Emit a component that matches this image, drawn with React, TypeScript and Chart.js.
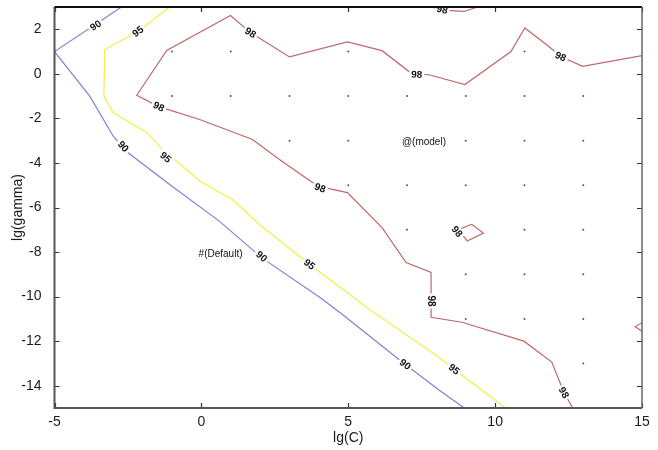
import React, { useEffect, useRef } from 'react';
import { Chart, registerables } from 'chart.js';
Chart.register(...registerables);

const FONT = "'Liberation Sans', Arial, sans-serif";

const xTicks = [-5, 0, 5, 10, 15];
const yTicks = [-14, -12, -10, -8, -6, -4, -2, 0, 2];

// contour 90 (blue)
const c90C = [-2.72, -5, -3.8, -3.0, -2.54, -1.0, 0.6, 2.05, 4.1, 4.9, 6.8, 8.1, 8.95];
const c90G = [3, 1, -1, -2.8, -3.5, -5.05, -6.6, -8.25, -10.1, -10.9, -12.9, -14.2, -15];

// contour 95 (yellow)
const c95C = [-1.08, -2.16, -3.29, -3.32, -3.01, -1.86, -1.32, -0.06, 0.62, 1.06, 1.98, 3.68, 5.27, 5.71, 8.09, 8.6, 10.36];
const c95G = [3, 1.9, 1.09, -1.0, -1.74, -2.63, -3.4, -4.8, -5.33, -5.64, -6.76, -8.55, -10.12, -10.57, -12.72, -13.26, -15];

// contour 98 (red) - main line
const c98C = [15, 12.98, 12.23, 11.83, 11.01, 10.54, 8.97, 7.75, 7.17, 6.15, 4.97, 3.0, 1.67, 0.99, -1.18, -2.2, -1.45, -0.06, 1.74, 2.66, 3.78, 4.35, 4.97, 6.15, 6.97, 7.82, 7.82, 8.87, 10.98, 11.93, 12.34, 12.64];
const c98G = [0.82, 0.34, 0.78, 1.23, 2.06, 1.0, -0.48, -0.04, 0.0, 1.04, 1.43, 0.76, 1.85, 2.62, 1.05, -0.96, -1.47, -2.05, -2.95, -3.85, -4.88, -5.15, -5.33, -6.9, -8.47, -8.91, -10.93, -11.15, -12.0, -12.94, -14.29, -15];
// contour 98 - small pieces
const c98TopC = [7.8, 8.3, 8.95, 9.4];
const c98TopG = [3, 2.85, 2.8, 3];
const c98IslandC = [9.2, 9.6, 9.05, 8.75, 9.2];
const c98IslandG = [-6.75, -7.15, -7.5, -7.0, -6.75];
const c98EdgeC = [15, 14.77, 15];
const c98EdgeG = [-11.17, -11.35, -11.55];

// grid search points
const dotsC = [-1, 1, 5, 11, -1, 1, 3, 5, 7, 9, 11, 13, 3, 5, 9, 11, 13, 5, 7, 9, 11, 13, 7, 11, 13, 9, 11, 13, 9, 11, 13, 13];
const dotsG = [1, 1, 1, 1, -1, -1, -1, -1, -1, -1, -1, -1, -3, -3, -3, -3, -3, -5, -5, -5, -5, -5, -7, -7, -7, -9, -9, -9, -11, -11, -11, -13];

// contour labels
const lab90C = [-3.6, -2.66, 2.05, 6.94];
const lab90G = [2.17, -3.26, -8.2, -13.04];
const lab95C = [-2.16, -1.22, 3.68, 8.6];
const lab95G = [1.9, -3.75, -8.55, -13.26];
const lab98C = [1.67, 7.33, 12.23, 8.2, -1.45, 4.04, 8.7, 7.82, 12.34];
const lab98G = [1.85, -0.03, 0.78, 2.88, -1.47, -5.12, -7.08, -10.2, -14.31];

// annotated points
const markText = ['@(model)', '#(Default)'];
const markC = [7, 0];
const markG = [-3, -8];

const zip = (a: number[], b: number[]) => a.map((v, i) => ({ x: v, y: b[i] }));

const BLUE = 'rgb(128,128,215)';
const YELLOW = 'rgb(240,240,70)';
const RED = 'rgb(190,105,105)';

export default function App() {
  const ref = useRef<HTMLCanvasElement>(null);
  useEffect(() => {
    if (!ref.current) return;
    const lineDs = (pts: { x: number; y: number }[], color: string) => ({
      data: pts,
      showLine: true,
      borderColor: color,
      borderWidth: 1.2,
      pointRadius: 0,
      fill: false,
      tension: 0,
    });
    const series90 = [zip(c90C, c90G)];
    const series95 = [zip(c95C, c95G)];
    const series98 = [zip(c98C, c98G), zip(c98TopC, c98TopG), zip(c98IslandC, c98IslandG), zip(c98EdgeC, c98EdgeG)];

    const overlay = {
      id: 'overlay',
      afterDatasetsDraw(chart: any) {
        const { ctx, chartArea } = chart;
        const xs = chart.scales.x;
        const ys = chart.scales.y;
        ctx.save();
        ctx.beginPath();
        ctx.rect(chartArea.left, chartArea.top, chartArea.right - chartArea.left, chartArea.bottom - chartArea.top);
        ctx.clip();
        const drawLabels = (lc: number[], lg: number[], text: string, series: { x: number; y: number }[][]) => {
          lc.forEach((c, i) => {
            const px = xs.getPixelForValue(c);
            const py = ys.getPixelForValue(lg[i]);
            let best = Infinity;
            let ang = 0;
            series.forEach((s) => {
              for (let k = 0; k < s.length - 1; k++) {
                const ax = xs.getPixelForValue(s[k].x), ay = ys.getPixelForValue(s[k].y);
                const bx = xs.getPixelForValue(s[k + 1].x), by = ys.getPixelForValue(s[k + 1].y);
                const dx = bx - ax, dy = by - ay;
                const L2 = dx * dx + dy * dy || 1;
                let t = ((px - ax) * dx + (py - ay) * dy) / L2;
                t = Math.max(0, Math.min(1, t));
                const qx = ax + t * dx, qy = ay + t * dy;
                const d = Math.hypot(px - qx, py - qy);
                if (d < best) {
                  best = d;
                  ang = Math.atan2(dy, dx);
                }
              }
            });
            if (ang > Math.PI / 2) ang -= Math.PI;
            if (ang < -Math.PI / 2) ang += Math.PI;
            ctx.save();
            ctx.translate(px, py);
            ctx.rotate(ang);
            ctx.font = `bold 10px ${FONT}`;
            const w = ctx.measureText(text).width;
            ctx.fillStyle = '#ffffff';
            ctx.fillRect(-w / 2 - 2, -5, w + 4, 10);
            ctx.fillStyle = '#111';
            ctx.textAlign = 'center';
            ctx.textBaseline = 'middle';
            ctx.fillText(text, 0, 0.5);
            ctx.restore();
          });
        };
        drawLabels(lab90C, lab90G, '90', series90);
        drawLabels(lab95C, lab95G, '95', series95);
        drawLabels(lab98C, lab98G, '98', series98);

        ctx.font = `10px ${FONT}`;
        ctx.fillStyle = '#111';
        ctx.textAlign = 'left';
        ctx.textBaseline = 'middle';
        markText.forEach((t, i) => {
          const px = xs.getPixelForValue(markC[i]);
          const py = ys.getPixelForValue(markG[i]);
          const half = ctx.measureText(t[0]).width / 2;
          ctx.fillText(t, px - half, py + 2);
        });
        ctx.restore();
      },
      afterDraw(chart: any) {
        const { ctx, chartArea } = chart;
        const { left, right, top, bottom } = chartArea;
        const xs = chart.scales.x;
        const ys = chart.scales.y;
        ctx.save();
        // inward ticks
        ctx.strokeStyle = '#333';
        ctx.lineWidth = 1.2;
        ctx.beginPath();
        xTicks.forEach((v) => {
          const p = Math.round(xs.getPixelForValue(v)) + 0.5;
          ctx.moveTo(p, bottom);
          ctx.lineTo(p, bottom - 5);
          ctx.moveTo(p, top);
          ctx.lineTo(p, top + 5);
        });
        yTicks.forEach((v) => {
          const p = Math.round(ys.getPixelForValue(v)) + 0.5;
          ctx.moveTo(left, p);
          ctx.lineTo(left + 5, p);
          ctx.moveTo(right, p);
          ctx.lineTo(right - 5, p);
        });
        ctx.stroke();
        // box
        ctx.lineWidth = 2;
        ctx.strokeStyle = '#555';
        ctx.beginPath();
        ctx.moveTo(left, top);
        ctx.lineTo(left, bottom);
        ctx.lineTo(right, bottom);
        ctx.stroke();
        ctx.strokeStyle = '#111';
        ctx.beginPath();
        ctx.moveTo(left, top);
        ctx.lineTo(right, top);
        ctx.stroke();
        ctx.strokeStyle = '#666';
        ctx.lineWidth = 1.5;
        ctx.beginPath();
        ctx.moveTo(right, top);
        ctx.lineTo(right, bottom);
        ctx.stroke();
        ctx.restore();
      },
    };

    const chart = new Chart(ref.current, {
      type: 'scatter',
      data: {
        datasets: [
          lineDs(series90[0], BLUE),
          lineDs(series95[0], YELLOW),
          ...series98.map((s) => lineDs(s, RED)),
          {
            data: zip(dotsC, dotsG),
            showLine: false,
            pointRadius: 1,
            pointBorderWidth: 0,
            pointBackgroundColor: '#555',
          },
        ] as any,
      },
      options: {
        animation: false,
        responsive: false,
        devicePixelRatio: 1,
        layout: { padding: { top: 7, right: 16, left: 0, bottom: 0 } },
        plugins: { legend: { display: false }, tooltip: { enabled: false } },
        scales: {
          x: {
            type: 'linear',
            min: -5,
            max: 15,
            grid: { display: false },
            border: { display: false },
            afterBuildTicks: (s: any) => {
              s.ticks = xTicks.map((v) => ({ value: v }));
            },
            afterFit: (s: any) => {
              s.height = 42;
              s.paddingLeft = 0;
              s.paddingRight = 0;
            },
            ticks: {
              padding: -2,
              maxRotation: 0,
              color: '#1a1a1a',
              font: { family: FONT, size: 14 },
              callback: (v: any) => String(v),
            },
            title: {
              display: true,
              text: 'lg(C)',
              color: '#1a1a1a',
              font: { family: FONT, size: 14 },
              padding: { top: 0, bottom: 3 },
            },
          },
          y: {
            type: 'linear',
            min: -15,
            max: 3,
            grid: { display: false },
            border: { display: false },
            afterBuildTicks: (s: any) => {
              s.ticks = yTicks.map((v) => ({ value: v }));
            },
            afterFit: (s: any) => {
              s.width = 54.5;
              s.paddingTop = 0;
              s.paddingBottom = 0;
            },
            ticks: {
              padding: 5,
              color: '#1a1a1a',
              font: { family: FONT, size: 14 },
              callback: (v: any) => String(v),
            },
            title: {
              display: true,
              text: 'lg(gamma)',
              color: '#1a1a1a',
              font: { family: FONT, size: 14 },
              padding: { top: 10, bottom: 0 },
            },
          },
        },
      } as any,
      plugins: [overlay],
    });
    return () => chart.destroy();
  }, []);
  return (
    <div style={{ position: 'absolute', left: 0, top: 0, width: 658, height: 450, background: '#fff' }}>
      <canvas ref={ref} width={658} height={450} style={{ display: 'block' }} />
    </div>
  );
}
